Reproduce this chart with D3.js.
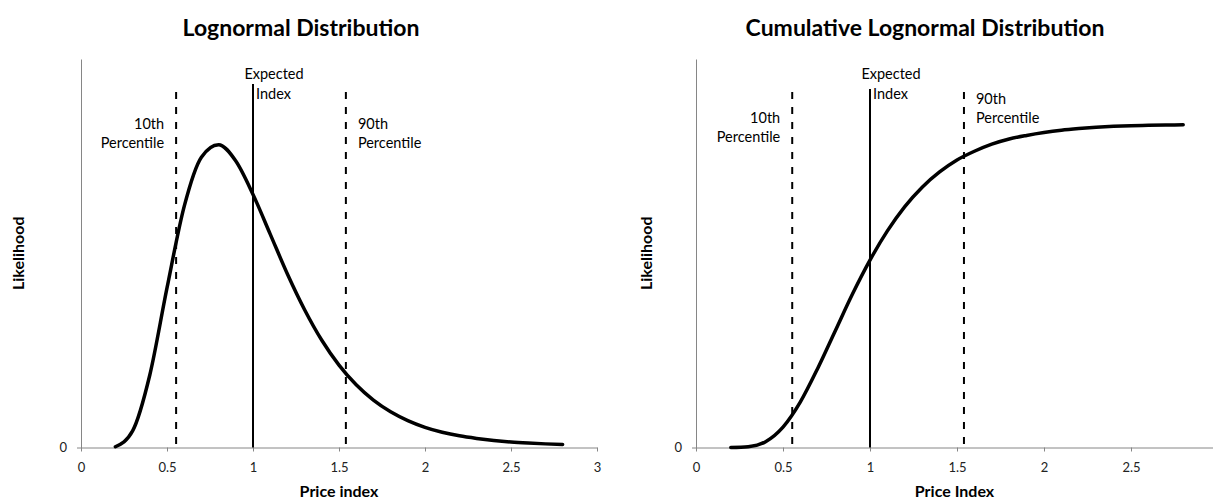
<!DOCTYPE html>
<html>
<head>
<meta charset="utf-8">
<script src="https://cdn.jsdelivr.net/npm/d3@7"></script>
<style>
  html, body { margin: 0; padding: 0; background: #fff; }
  svg { display: block; }
  text { font-family: Lato, "Open Sans", sans-serif; }
</style>
</head>
<body>
<svg id="chart" width="1213" height="498"></svg>
<script>
// ---- data ----
const priceIndex = [0.2,0.3,0.4,0.5,0.6,0.7,0.8,0.9,1.0,1.1,1.2,1.3,1.4,1.5,1.6,1.7,1.8,1.9,2.0,2.1,2.2,2.3,2.4,2.5,2.6,2.7,2.8];
const density = [0.003,0.064,0.280,0.616,0.931,1.121,1.169,1.106,0.977,0.824,0.670,0.532,0.414,0.318,0.242,0.183,0.138,0.104,0.078,0.059,0.045,0.035,0.027,0.021,0.017,0.014,0.012];
const cumulative = [0.0001,0.0025,0.018,0.063,0.141,0.245,0.360,0.475,0.579,0.669,0.744,0.804,0.851,0.888,0.915,0.937,0.953,0.964,0.973,0.980,0.985,0.989,0.992,0.994,0.995,0.996,0.997];
const xTicks = [0,0.5,1,1.5,2,2.5,3];
const yTicks = [0];
const markers = [
  {value: 0.553, kind: "dashed", name: "10th"},
  {value: 1.0,   kind: "solid",  name: "Expected"},
  {value: 1.54,  kind: "dashed", name: "90th"}
];
const titles = ["Lognormal Distribution", "Cumulative Lognormal Distribution"];
const xTitles = ["Price index", "Price Index"];
const yTitle = "Likelihood";

const svg = d3.select("#chart");
const axisColor = "#868686";
const FONT = "Lato, 'Open Sans', sans-serif";

function panel(cfg) {
  const g = svg.append("g");
  const x = d3.scaleLinear().domain([0, 3]).range([cfg.x0, cfg.x1]);
  const y = d3.scaleLinear().domain([0, cfg.yMax]).range([447.5, 59]);

  // title
  g.append("text").attr("x", cfg.titleX).attr("y", 27).attr("text-anchor", "middle")
    .attr("dominant-baseline", "central").attr("font-size", 23).attr("font-weight", 700)
    .attr("fill", "#000").text(cfg.title);

  // axes
  const xa = g.append("g").attr("transform", `translate(0,${y(0)})`)
    .call(d3.axisBottom(x).tickValues(xTicks).tickFormat(d3.format("")).tickSize(4).tickSizeOuter(0).tickPadding(11));
  const ya = g.append("g").attr("transform", `translate(${x(0)},0)`)
    .call(d3.axisLeft(y).tickValues(yTicks).tickFormat(d3.format("")).tickSize(4).tickSizeOuter(0).tickPadding(10));
  [xa, ya].forEach(a => {
    a.select(".domain").attr("stroke", axisColor);
    a.selectAll(".tick line").attr("stroke", axisColor);
    a.selectAll(".tick text").attr("fill", "#222").attr("font-size", 13).attr("font-family", FONT);
  });

  // axis titles
  g.append("text").attr("x", (cfg.x0 + Math.min(cfg.x1, 1213)) / 2).attr("y", 490)
    .attr("text-anchor", "middle").attr("dominant-baseline", "central")
    .attr("font-size", 16).attr("font-weight", 700).text(cfg.xTitle);
  g.append("text").attr("transform", `translate(${cfg.yTitleX},${(y(0) + y(cfg.yMax)) / 2}) rotate(-90)`)
    .attr("text-anchor", "middle").attr("dominant-baseline", "central")
    .attr("font-size", 16).attr("font-weight", 700).text(yTitle);

  // marker lines
  markers.forEach(m => {
    g.append("line").attr("x1", x(m.value)).attr("x2", x(m.value))
      .attr("y1", m.kind === "solid" ? cfg.solidTop : 92).attr("y2", y(0))
      .attr("stroke", "#000").attr("stroke-width", 2)
      .attr("stroke-dasharray", m.kind === "dashed" ? "7,8" : null);
  });

  // annotations
  const ann = (tx, ty, anchor, str) => g.append("text").attr("x", tx).attr("y", ty)
    .attr("text-anchor", anchor).attr("dominant-baseline", "central")
    .attr("font-size", 14.5).attr("fill", "#000").text(str);
  const a = cfg.ann;
  ann(x(1) + 21, 73, "middle", "Expected");
  ann(x(1) + 3, 93, "start", "Index");
  ann(x(0.553) - 12, a.tenY, "end", "10th");
  ann(x(0.553) - 12, a.tenY + 19, "end", "Percentile");
  ann(x(1.54) + 12, a.ninetyY, "start", "90th");
  ann(x(1.54) + 12, a.ninetyY + 19, "start", "Percentile");

  // curve
  const line = d3.line().x((d, i) => x(priceIndex[i])).y(d => y(d)).curve(d3.curveMonotoneX);
  g.append("path").datum(cfg.values).attr("d", line)
    .attr("fill", "none").attr("stroke", "#000").attr("stroke-width", 3.5).attr("stroke-linecap", "round");
}

panel({x0: 81, x1: 597, yMax: 1.5, values: density, title: titles[0], titleX: 301,
  xTitle: xTitles[0], yTitleX: 17, solidTop: 84, ann: {tenY: 123, ninetyY: 123}});
panel({x0: 696, x1: 1218, yMax: 1.2, values: cumulative, title: titles[1], titleX: 925,
  xTitle: xTitles[1], yTitleX: 645, solidTop: 89, ann: {tenY: 117, ninetyY: 98}});
</script>
</body>
</html>
